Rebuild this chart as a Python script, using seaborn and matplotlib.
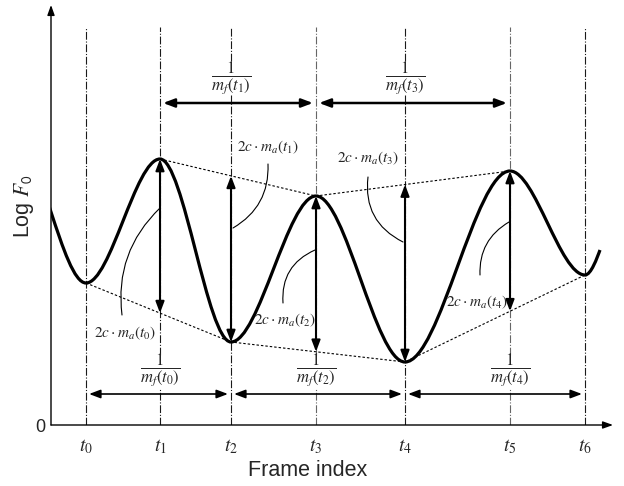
import numpy as np
import pandas as pd
import matplotlib
matplotlib.use("Agg")
import matplotlib.pyplot as plt
from matplotlib.path import Path
from matplotlib.patches import PathPatch
import seaborn as sns

# ---------------- data ----------------
frame_labels = [r"$t_0$", r"$t_1$", r"$t_2$", r"$t_3$", r"$t_4$", r"$t_5$", r"$t_6$"]
frame_pos = [3.5, 10.9, 18.0, 26.5, 35.4, 45.9, 53.4]          # frame index of t0..t6
extrema_logf0 = [14.2, 26.6, 8.3, 22.9, 6.3, 25.4, 15.0]       # Log F0 at t0..t6 (troughs / peaks)
curve_start = [0.0, 21.3]                                      # left end of the contour
curve_end = [54.9, 17.5]                                       # right end of the contour
peak_idx = [1, 3, 5]
trough_idx = [0, 2, 4, 6]
amp_labels = [r"$2c\cdot m_a(t_%d)$" % i for i in range(5)]
freq_labels = [r"$\dfrac{1}{m_f(t_%d)}$" % i for i in [0, 1, 2, 3, 4]]

# ---------------- style ----------------
sns.set_theme(style="white")
plt.rcParams["font.family"] = ["Liberation Sans", "DejaVu Sans"]
plt.rcParams["mathtext.fontset"] = "stix"

fig = plt.figure(figsize=(6.24, 4.86), dpi=100)
ax = fig.add_axes([51 / 624, 61 / 486, 564 / 624, 420 / 486])
ax.set_xlim(0, 56.4)
ax.set_ylim(0, 42.0)
for s in ax.spines.values():
    s.set_visible(False)

fx = np.array(frame_pos)
fy = np.array(extrema_logf0)
upper = pd.DataFrame({"x": fx[peak_idx], "y": fy[peak_idx]})
lower = pd.DataFrame({"x": fx[trough_idx], "y": fy[trough_idx]})

# ---------------- dash-dot frame lines (with gaps behind fraction labels) ----------------
dd = (0, (7, 1.6, 1.0, 1.6))
top_gap = (33.0, 36.4)
bot_gap = (3.7, 7.0)
for i, x in enumerate(frame_pos):
    col = "#666666" if i in (3, 5) else "#1a1a1a"
    if i in (2, 4):
        segs = [(0, top_gap[0]), (top_gap[1], 39.8)]
    elif i in (1, 3, 5):
        segs = [(0, bot_gap[0]), (bot_gap[1], 39.8)]
    else:
        segs = [(0, 39.8)]
    for y0, y1 in segs:
        ax.plot([x, x], [y0, y1], color=col, lw=0.8, linestyle=dd, zorder=1)

# ---------------- envelopes (dotted) ----------------
sns.lineplot(data=upper, x="x", y="y", ax=ax, color="black", lw=0.8,
             linestyle=(0, (2.2, 1.8)), zorder=2)
sns.lineplot(data=lower, x="x", y="y", ax=ax, color="black", lw=0.8,
             linestyle=(0, (2.2, 1.8)), zorder=2)

# ---------------- F0 contour (smooth path through extrema) ----------------
vx = 2 * curve_start[0] - fx[0]
vy = 2 * curve_start[1] - fy[0]
knots = [(vx, vy)] + list(zip(fx, fy))
verts = [knots[0]]
codes = [Path.MOVETO]
for (xa, ya), (xb, yb) in zip(knots[:-1], knots[1:]):
    d = (xb - xa) / 3.0
    verts += [(xa + d, ya), (xb - d, yb), (xb, yb)]
    codes += [Path.CURVE4] * 3
xe, ye = curve_end
verts += [(fx[-1] + 0.6, fy[-1]), (xe - 0.3, ye - 0.8), (xe, ye)]
codes += [Path.CURVE4] * 3
ax.add_patch(PathPatch(Path(verts, codes), fill=False, lw=2.3, color="black",
                       capstyle="butt", zorder=4))

# ---------------- vertical amplitude arrows ----------------
def arrow(p0, p1, lw, shrink=0):
    ax.annotate("", xy=p1, xytext=p0,
                arrowprops=dict(arrowstyle="<|-|>,head_length=0.45,head_width=0.17",
                                mutation_scale=15, lw=lw, color="black",
                                shrinkA=shrink, shrinkB=shrink), zorder=5)

up_env = lambda x: np.interp(x, upper["x"], upper["y"])
lo_env = lambda x: np.interp(x, lower["x"], lower["y"])
for i, x in enumerate(frame_pos[1:6], start=1):
    arrow((x, up_env(x)), (x, lo_env(x)), lw=1.5)

# ---------------- horizontal period arrows ----------------
y_top, y_bot = 32.2, 3.1
for a, b in [(1, 3), (3, 5)]:
    arrow((frame_pos[a], y_top), (frame_pos[b], y_top), lw=1.8, shrink=2.2)
for a, b in [(0, 2), (2, 4), (4, 6)]:
    arrow((frame_pos[a], y_bot), (frame_pos[b], y_bot), lw=1.2, shrink=2.2)

# fraction labels
ax.text(frame_pos[2], 34.7, freq_labels[1], ha="center", va="center", fontsize=12, zorder=6)
ax.text(frame_pos[4], 34.7, freq_labels[3], ha="center", va="center", fontsize=12, zorder=6)
ax.text(frame_pos[1], 5.5, freq_labels[0], ha="center", va="center", fontsize=12, zorder=6)
ax.text(frame_pos[3], 5.5, freq_labels[2], ha="center", va="center", fontsize=12, zorder=6)
ax.text(frame_pos[5], 5.5, freq_labels[4], ha="center", va="center", fontsize=12, zorder=6)

# amplitude labels with curved leaders
def px(x, y):
    return ((x - 51) / 10.0, (425 - y) / 10.0)

amp_text_pos = [px(125, 333), px(268, 147), px(285, 320), px(368, 158), px(477, 302)]
amp_lead = [(px(122, 315), px(160, 208), -0.25),
            (px(268, 164), px(233, 228), -0.3),
            (px(283, 303), px(315, 250), -0.35),
            (px(368, 177), px(403, 242), 0.35),
            (px(480, 275), px(509, 222), -0.3)]
for lab, pos, (a, b, r) in zip(amp_labels, amp_text_pos, amp_lead):
    ax.text(pos[0], pos[1], lab, ha="center", va="center", fontsize=11, zorder=6)
    ax.annotate("", xy=b, xytext=a,
                arrowprops=dict(arrowstyle="-", connectionstyle="arc3,rad=%g" % r,
                                lw=0.8, color="black", shrinkA=0, shrinkB=0), zorder=6)

# ---------------- axes with arrows ----------------
axprops = dict(arrowstyle="-|>,head_length=0.5,head_width=0.18", mutation_scale=12,
               lw=1.0, color="black", shrinkA=0, shrinkB=0)
ax.annotate("", xy=(56.2, 0), xytext=(0, 0), arrowprops=axprops, annotation_clip=False, zorder=7)
ax.annotate("", xy=(0, 42.0), xytext=(0, 0), arrowprops=axprops, annotation_clip=False, zorder=7)

ax.set_xticks(frame_pos, labels=frame_labels)
ax.set_yticks([0], labels=["0"])
ax.tick_params(axis="x", length=0, pad=9, labelsize=14)
ax.tick_params(axis="y", length=0, pad=4, labelsize=13)
ax.grid(False)

ax.set_xlabel("Frame index", fontsize=15.5, va="center")
ax.xaxis.set_label_coords((308 - 51) / 564, (425 - 470) / 420)
ax.set_ylabel(r"Log $F_{\mathsf{0}}$", fontsize=15.5, va="center")
ax.yaxis.set_label_coords((24 - 51) / 564, (425 - 206) / 420)

fig.savefig("out.png", dpi=100)
